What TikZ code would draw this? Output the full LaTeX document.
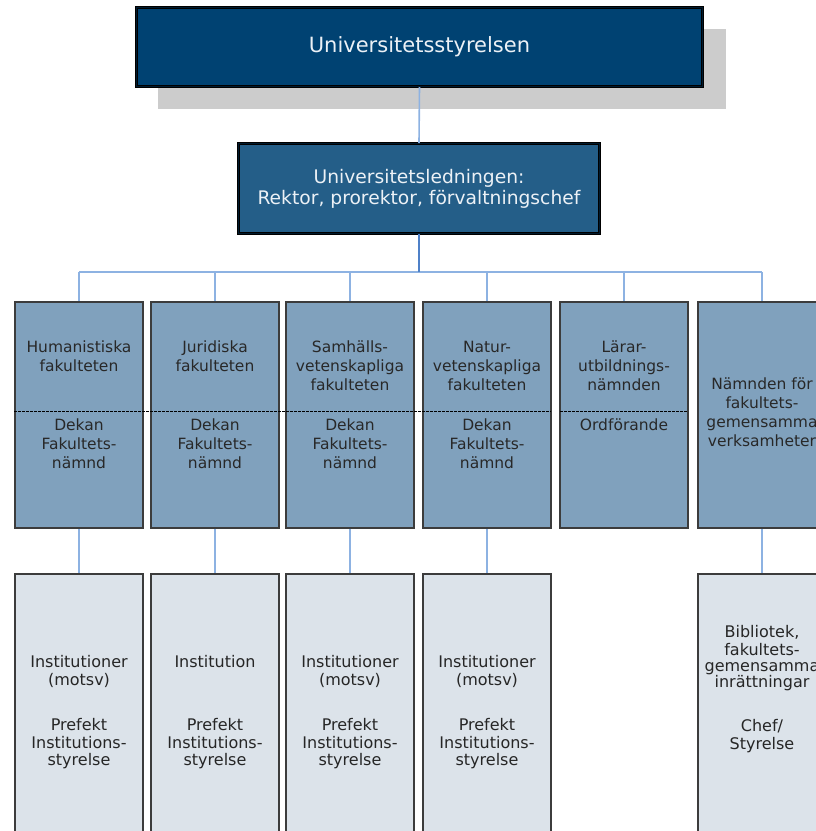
\documentclass[tikz,border=0pt]{standalone}
\usepackage{fontspec}
\setmainfont{DejaVu Sans}
\newfontfamily\condfont{DejaVu Sans Condensed}
\definecolor{topblue}{RGB}{0,66,114}
\definecolor{midblue}{RGB}{36,94,136}
\definecolor{shadowgray}{RGB}{204,204,204}
\definecolor{linkblue}{RGB}{141,178,226}
\definecolor{linkdark}{RGB}{79,129,200}
\definecolor{facfill}{RGB}{128,161,189}
\definecolor{instfill}{RGB}{220,227,234}
\definecolor{boxedge}{RGB}{60,60,60}
\definecolor{textgray}{RGB}{40,40,40}
\definecolor{lighttext}{RGB}{236,241,246}
\tikzset{
  headbox/.style={rectangle, draw=black, line width=1pt, double=black!60!topblue, double distance=1.6pt, inner sep=0pt},
  facbox/.style={rectangle, draw=boxedge, line width=1.6pt, fill=facfill, minimum width=128pt, minimum height=226pt, inner sep=0pt},
  instbox/.style={rectangle, draw=boxedge, line width=1.6pt, fill=instfill, minimum width=128pt, minimum height=300pt, inner sep=0pt},
  link/.style={draw=linkblue, line width=2pt},
  factext/.style={inner sep=0pt, align=center, text=textgray, font=\fontsize{15.5}{19}\selectfont},
  insttext/.style={inner sep=0pt, align=center, text=black!85, font=\fontsize{16}{17}\selectfont},
}
\begin{document}
\begin{tikzpicture}[x=1pt,y=-1pt]
\useasboundingbox (0,0) rectangle (816,831);
\clip (0,0) rectangle (816,831);
% shadow
\fill[shadowgray] (158,29) rectangle (726,109);
% top boxes
\node[headbox, fill=topblue, minimum width=566pt, minimum height=79pt] (styr) at (419.5,47) {};
\node[text=lighttext, font=\fontsize{21}{24}\selectfont] (styrt) at (styr.center) {Universitetsstyrelsen};
\node[headbox, fill=midblue, minimum width=361pt, minimum height=90pt] (led) at (419,188.5) {};
\node[align=center, text=lighttext, font=\fontsize{18.7}{21}\selectfont] (ledt) at (led.center) {Universitetsledningen:\\Rektor, prorektor, förvaltningschef};
% faculty boxes
\node[facbox] (f1) at (79,415) {};
\node[facbox] (f2) at (215,415) {};
\node[facbox] (f3) at (350,415) {};
\node[facbox] (f4) at (487,415) {};
\node[facbox] (f5) at (624,415) {};
\node[facbox] (f6) at (762,415) {};
% institution boxes
\node[instbox] (i1) at (79,724) {};
\node[instbox] (i2) at (215,724) {};
\node[instbox] (i3) at (350,724) {};
\node[instbox] (i4) at (487,724) {};
\node[instbox] (i6) at (762,724) {};
% connectors
\coordinate (bar) at (419,272);
\coordinate (barL) at (79,272);
\coordinate (barR) at (762,272);
\draw[link, line width=1.6pt] (styr.south) -- (led.north);
\draw[link, line width=2.6pt] (barL) -- (barR);
\draw[link, draw=linkdark, line width=2.6pt] (led.south) -- (bar);
\foreach \f in {f1,f2,f3,f4,f5,f6} {
  \draw[link] (\f.north |- bar) -- (\f.north);
}
\foreach \f/\i in {f1/i1,f2/i2,f3/i3,f4/i4,f6/i6} {
  \draw[link] (\f.south) -- (\i.north);
}
% dashed separators
\coordinate (dA) at (14,411);
\coordinate (dB) at (551,411);
\coordinate (dC) at (560,411);
\coordinate (dD) at (688,411);
\draw[black, line width=1pt, dash pattern=on 2.5pt off 1.5pt] (dA) -- (dB);
\draw[black, line width=1pt, dash pattern=on 2.5pt off 1.5pt] (dC) -- (dD);
% faculty texts
\node[factext, anchor=north] (t1a) at (79,338.5) {\strut Humanistiska\\fakulteten};
\node[factext, anchor=north] (t2a) at (215,338.5) {\strut Juridiska\\fakulteten};
\node[factext, anchor=north] (t3a) at (350,338.5) {\strut Samhälls-\\vetenskapliga\\fakulteten};
\node[factext, anchor=north] (t4a) at (487,338.5) {\strut Natur-\\vetenskapliga\\fakulteten};
\node[factext, anchor=north] (t5a) at (624,338.5) {\strut Lärar-\\utbildnings-\\nämnden};
\node[factext, anchor=north] (t1b) at (79,416.5) {\strut Dekan\\Fakultets-\\nämnd};
\node[factext, anchor=north] (t2b) at (215,416.5) {\strut Dekan\\Fakultets-\\nämnd};
\node[factext, anchor=north] (t3b) at (350,416.5) {\strut Dekan\\Fakultets-\\nämnd};
\node[factext, anchor=north] (t4b) at (487,416.5) {\strut Dekan\\Fakultets-\\nämnd};
\node[factext, anchor=north] (t5b) at (624,416.5) {\strut Ordförande};
\node[factext, anchor=north] (t6) at (762,376) {\strut Nämnden för\\fakultets-\\gemensamma\\verksamheter};
% institution texts
\node[insttext, anchor=north] (u1a) at (79,655) {\strut Institutioner\\(motsv)};
\node[insttext, anchor=north] (u2a) at (215,655) {\strut Institution};
\node[insttext, anchor=north] (u3a) at (350,655) {\strut Institutioner\\(motsv)};
\node[insttext, anchor=north] (u4a) at (487,655) {\strut Institutioner\\(motsv)};
\node[insttext, anchor=north] (u1b) at (79,718) {\strut Prefekt\\Institutions-\\styrelse};
\node[insttext, anchor=north] (u2b) at (215,718) {\strut Prefekt\\Institutions-\\styrelse};
\node[insttext, anchor=north] (u3b) at (350,718) {\strut Prefekt\\Institutions-\\styrelse};
\node[insttext, anchor=north] (u4b) at (487,718) {\strut Prefekt\\Institutions-\\styrelse};
\node[insttext, anchor=north, font=\fontsize{16}{16}\selectfont] (u6a) at (762,625) {\strut Bibliotek,\\fakultets-\\gemensamma\\inrättningar};
\node[insttext, anchor=north] (u6b) at (762,719) {\strut Chef/\\Styrelse};
\end{tikzpicture}
\end{document}
